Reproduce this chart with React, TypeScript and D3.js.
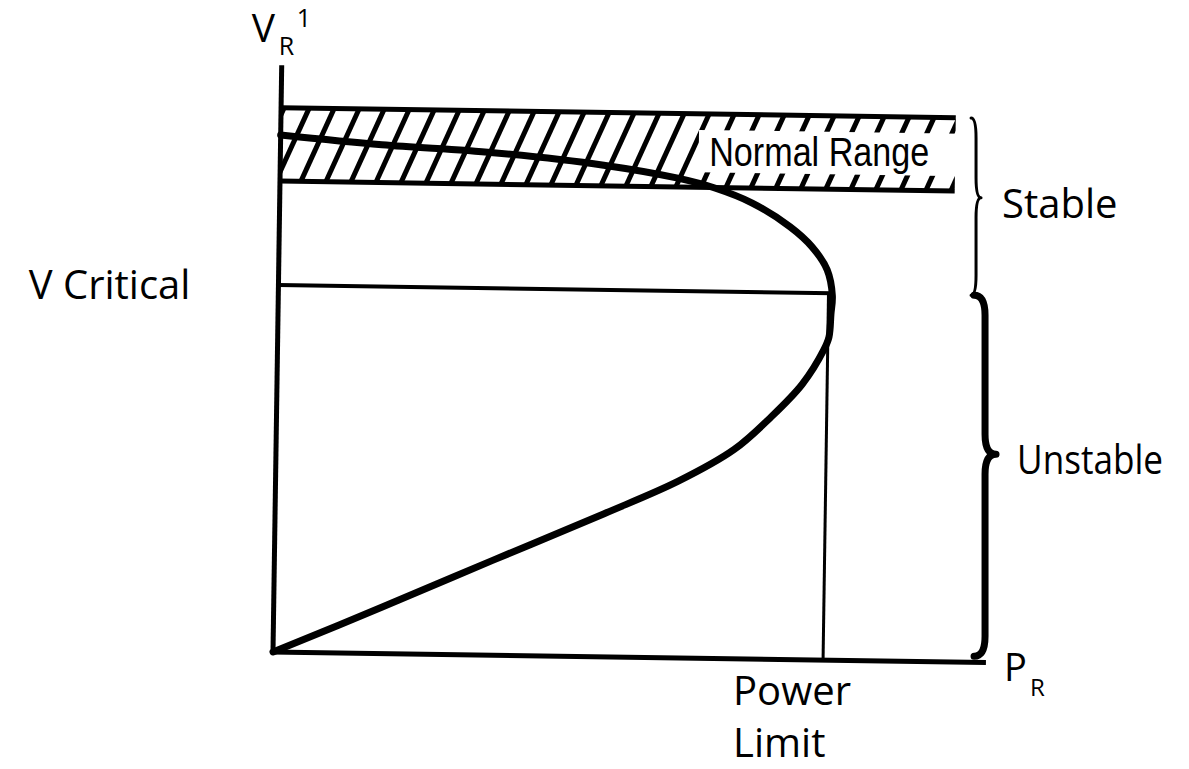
import { useEffect, useRef } from 'react';
import * as d3 from 'd3';

// nose (P-V) curve, per-unit values: upper branch -> nose -> lower branch
const curveP = [0, 0.183, 0.384, 0.584, 0.718, 0.785, 0.853, 0.922, 0.962, 0.99, 1.0, 0.998, 0.995, 0.986, 0.948, 0.891, 0.827, 0.727, 0.594, 0.395, 0.196, 0];
const curveV = [1.0, 0.984, 0.972, 0.951, 0.928, 0.91, 0.882, 0.837, 0.799, 0.755, 0.705, 0.67, 0.625, 0.6, 0.533, 0.467, 0.405, 0.342, 0.277, 0.184, 0.09, 0];

const axisMax = [1.287, 1.135];          // P extent, V extent
const normalRange = [0.911, 1.053];      // V band
const normalRangeP = 1.218;              // band length in P
const labelBoxP = [0.755, 1.23];
const labelBoxV = [0.94, 1.022];
const vCritical = 0.71;
const pLimit = 0.993;
const braceP = 1.26;
const regionLabels = ['Stable', 'Unstable'];
const regionTip = [0.45, 0.44];

const W = 1189, H = 769;
const ORIGIN = { x: 273, y: 652 };
const TILT = 0.85;   // the scanned sketch is slightly rotated
const FONT = "'Open Sans', 'Noto Sans', sans-serif";

function bracePath(x: number, y0: number, y1: number, yTip: number, d: number, r: number) {
  return `M${x},${y0} Q${x + d},${y0} ${x + d},${y0 + r} L${x + d},${yTip - r} Q${x + d},${yTip} ${x + 2 * d},${yTip}`
    + ` Q${x + d},${yTip} ${x + d},${yTip + r} L${x + d},${y1 - r} Q${x + d},${y1} ${x},${y1}`;
}

export default function App() {
  const ref = useRef<SVGSVGElement>(null);

  useEffect(() => {
    const svg = d3.select(ref.current);
    svg.selectAll('*').remove();

    const x = d3.scaleLinear().domain([0, 1]).range([0, 554]);
    const y = d3.scaleLinear().domain([0, 1]).range([0, -517]);
    const rad = TILT * Math.PI / 180, cos = Math.cos(rad), sin = Math.sin(rad);
    const toScreen = (p: number, v: number) => {
      const a = x(p), b = y(v);
      return [ORIGIN.x + a * cos - b * sin, ORIGIN.y + a * sin + b * cos];
    };

    svg.append('rect').attr('width', W).attr('height', H).attr('fill', '#fff');
    const g = svg.append('g').attr('transform', `translate(${ORIGIN.x},${ORIGIN.y}) rotate(${TILT})`);

    // hatched normal range band
    const bandTop = y(normalRange[1]), bandBot = y(normalRange[0]), bandW = x(normalRangeP);
    svg.append('defs').append('clipPath').attr('id', 'band')
      .append('rect').attr('x', 0).attr('y', bandTop).attr('width', bandW).attr('height', bandBot - bandTop);
    g.append('g').attr('clip-path', 'url(#band)')
      .selectAll('line').data(d3.range(-30, bandW + 40, 25)).join('line')
      .attr('x1', d => d).attr('y1', bandBot + 2).attr('x2', d => d + 34).attr('y2', bandTop - 2)
      .attr('stroke', '#000').attr('stroke-width', 5);
    g.append('rect')
      .attr('x', x(labelBoxP[0])).attr('y', y(labelBoxV[1]))
      .attr('width', x(labelBoxP[1]) - x(labelBoxP[0])).attr('height', y(labelBoxV[0]) - y(labelBoxV[1]))
      .attr('fill', '#fff');
    normalRange.forEach(v => {
      g.append('line').attr('x1', 0).attr('x2', bandW).attr('y1', y(v)).attr('y2', y(v))
        .attr('stroke', '#000').attr('stroke-width', 5);
    });

    // V critical and power limit
    g.append('line').attr('x1', 0).attr('x2', x(1)).attr('y1', y(vCritical)).attr('y2', y(vCritical))
      .attr('stroke', '#000').attr('stroke-width', 4);
    g.append('line').attr('x1', x(pLimit)).attr('x2', x(pLimit)).attr('y1', y(vCritical)).attr('y2', 0)
      .attr('stroke', '#000').attr('stroke-width', 3);

    // nose curve
    const pts = curveP.map((p, i) => [x(p), y(curveV[i])] as [number, number]);
    g.append('path').attr('d', d3.line().curve(d3.curveCatmullRom.alpha(0.5))(pts))
      .attr('fill', 'none').attr('stroke', '#000').attr('stroke-width', 7)
      .attr('stroke-linejoin', 'round').attr('stroke-linecap', 'round');

    // axes
    g.append('line').attr('x1', 0).attr('x2', 0).attr('y1', 2).attr('y2', y(axisMax[1]))
      .attr('stroke', '#000').attr('stroke-width', 5);
    g.append('line').attr('x1', -2).attr('x2', x(axisMax[0])).attr('y1', 0).attr('y2', 0)
      .attr('stroke', '#000').attr('stroke-width', 5);

    // braces
    const b0 = toScreen(braceP, normalRange[1]);
    const b1 = toScreen(braceP, vCritical);
    const b2 = toScreen(braceP, 0);
    const braces = [
      { x: b0[0] - 8, y0: b0[1], y1: b1[1], d: 5, w: 3, len: 0 },
      { x: b0[0] - 5, y0: b1[1], y1: b2[1] - 6, d: 11, w: 7, len: 146 },
    ];
    braces.forEach((b, i) => {
      const tip = b.y0 + (b.y1 - b.y0) * regionTip[i];
      svg.append('path').attr('d', bracePath(b.x, b.y0, b.y1, tip, b.d, 20))
        .attr('fill', 'none').attr('stroke', '#000').attr('stroke-width', b.w)
        .attr('stroke-linejoin', 'round').attr('stroke-linecap', 'round');
      const t = svg.append('text').attr('x', b.x + 2 * b.d + 21).attr('y', tip + 20)
        .style('font-family', FONT).style('font-size', '40px').text(regionLabels[i]);
      if (b.len) t.attr('textLength', b.len).attr('lengthAdjust', 'spacingAndGlyphs');
    });

    // labels
    const nr = toScreen((labelBoxP[0] + labelBoxP[1]) / 2 - 0.02, (labelBoxV[0] + labelBoxV[1]) / 2);
    svg.append('text').attr('x', nr[0]).attr('y', nr[1] + 13).attr('text-anchor', 'middle')
      .attr('textLength', 220).attr('lengthAdjust', 'spacingAndGlyphs')
      .style('font-family', "'Liberation Sans Narrow', 'Liberation Sans', Arial, sans-serif").style('font-size', '41px')
      .text('Normal Range');

    const vc = toScreen(0, vCritical);
    svg.append('text').attr('x', vc[0] - 88).attr('y', vc[1] + 14).attr('text-anchor', 'end')
      .style('font-family', FONT).style('font-size', '40px').text('V Critical');

    const pl = toScreen(pLimit, 0);
    ['Power', 'Limit'].forEach((t, i) => {
      svg.append('text').attr('x', pl[0] - 90).attr('y', pl[1] + 45 + i * 52)
        .style('font-family', FONT).style('font-size', '40px').text(t);
    });

    const top = toScreen(0, axisMax[1]);
    svg.append('text').attr('x', top[0] - 30).attr('y', top[1] - 23)
      .style('font-family', FONT).style('font-size', '39px').text('V');
    svg.append('text').attr('x', top[0] - 3).attr('y', top[1] - 10)
      .style('font-family', FONT).style('font-size', '25px').text('R');
    svg.append('text').attr('x', top[0] + 15).attr('y', top[1] - 38)
      .style('font-family', FONT).style('font-size', '25px').text('1');

    const end = toScreen(axisMax[0], 0);
    svg.append('text').attr('x', end[0] + 18).attr('y', end[1] + 18)
      .style('font-family', FONT).style('font-size', '38px').text('P');
    svg.append('text').attr('x', end[0] + 44).attr('y', end[1] + 33)
      .style('font-family', FONT).style('font-size', '24px').text('R');
  }, []);

  return (
    <svg ref={ref} width={W} height={H}
      style={{ position: 'absolute', left: 0, top: 0, display: 'block' }} />
  );
}
